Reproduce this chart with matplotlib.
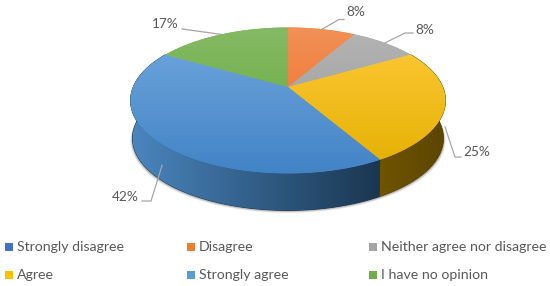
#!/usr/bin/env python3
from __future__ import annotations

import matplotlib

matplotlib.use("Agg")
import matplotlib.pyplot as plt
import numpy as np
from matplotlib.colors import LinearSegmentedColormap
from matplotlib.patches import PathPatch, Polygon, Rectangle
from matplotlib.path import Path

categories = ["Strongly disagree", "Disagree", "Neither agree nor disagree", "Agree", "Strongly agree", "I have no opinion"]
values = [0.0, 8.33, 8.33, 25.0, 41.67, 16.67]
legend_colors = ["#4472c4", "#ed7d31", "#a5a5a5", "#ffc000", "#5b9bd5", "#70ad47"]
top_colors = [
    ("#4472c4", "#3a62a8"),
    ("#f29057", "#ea6a1c"),
    ("#b4b4b4", "#989898"),
    ("#ffcb3c", "#e4af00"),
    ("#72a8de", "#4283c6"),
    ("#85ba65", "#60a736"),
]
wall_colors = {3: ("#6f5400", "#5c4500"), 4: ("#4a86bf", "#1a3650")}

WIDTH, HEIGHT = 550, 286
CX, CY = 288.0, 87.0
A, B, K = 154.8, 70.5, 0.185
WALL_SCALE, WALL_DROP = 0.987, 38.0
TEXT = "#595959"


def project(theta: np.ndarray, radius: float = 1.0, scale: float = 1.0, drop: float = 0.0) -> np.ndarray:
    u = radius * np.sin(theta)
    v = radius * np.cos(theta)
    w = 1.0 + K * v
    return np.column_stack([CX + scale * A * u / w, CY + drop - scale * B * v / w])


def gradient_fill(ax: plt.Axes, verts: np.ndarray, colors: tuple[str, str], horizontal: bool, span: tuple[float, float]) -> None:
    cmap = LinearSegmentedColormap.from_list("g", list(colors))
    # solid underlay keeps the clipped image from leaving pale seams
    if horizontal:
        ax.add_patch(Polygon(verts, closed=True, facecolor=colors[1], edgecolor=colors[1], lw=0.6, zorder=2))
    else:
        ax.add_patch(Polygon(verts, closed=True, facecolor=cmap(0.5), edgecolor="none", zorder=2))
    ramp = np.linspace(0, 1, 256)
    grid = ramp[None, :] if horizontal else ramp[:, None]
    lo = verts.min(axis=0)
    hi = verts.max(axis=0)
    if horizontal:
        extent = (span[0], span[1], hi[1], lo[1])
    else:
        extent = (lo[0], hi[0], span[1], span[0])
    image = ax.imshow(grid, cmap=cmap, extent=extent, aspect="auto", interpolation="bilinear", zorder=3)
    patch = PathPatch(Path(np.vstack([verts, verts[:1]])), transform=ax.transData, facecolor="none", edgecolor="none")
    ax.add_patch(patch)
    image.set_clip_path(patch)


plt.rcParams["font.family"] = ["Lato", "DejaVu Sans"]
fig = plt.figure(figsize=(WIDTH / 100, HEIGHT / 100), dpi=100)
ax = fig.add_axes([0, 0, 1, 1])
ax.set_axis_off()

# soft shadow under the wall
full = np.linspace(0, 2 * np.pi, 361)
for grow, alpha in [(2.6, 0.10), (1.8, 0.16), (1.0, 0.24)]:
    ring = project(full, scale=WALL_SCALE, drop=WALL_DROP + grow)
    ring[:, 0] = CX + (ring[:, 0] - CX) * (1 + grow / 200)
    ax.add_patch(Polygon(ring, closed=True, facecolor="#404040", edgecolor="none", alpha=alpha, zorder=1))

shares = np.asarray(values) / sum(values)
edges = np.concatenate([[0.0], np.cumsum(shares) * 2 * np.pi])
wall_left, wall_right = CX - 157.5, CX + 157.5
seam_x = project(np.array([edges[4]]))[0, 0]

# side wall, only the slices facing the viewer
for i, colors in wall_colors.items():
    theta = np.linspace(edges[i], edges[i + 1], 120)
    verts = np.vstack([project(theta), project(theta, scale=WALL_SCALE, drop=WALL_DROP)[::-1]])
    span = (wall_left, seam_x) if i == 4 else (seam_x, wall_right)
    gradient_fill(ax, verts, colors, True, span)

# top face
for i, colors in enumerate(top_colors):
    if values[i] == 0:
        continue
    theta = np.linspace(edges[i], edges[i + 1], 120)
    verts = np.vstack([[[CX, CY]], project(theta)])
    gradient_fill(ax, verts, colors, False, (27.5, 174.0))

# data labels with elbow leaders: slice index, label anchor, elbow
label_layout = [
    (1, (346, 12), (339, 19.5)),
    (2, (415, 30), (405, 33)),
    (3, (463, 152), (455, 157)),
    (4, (139, 197), (151, 201)),
    (5, (179, 24.5), (182, 29)),
]
for i, anchor, elbow in label_layout:
    mid = 0.5 * (edges[i] + edges[i + 1])
    drop = WALL_DROP * 0.55 if i in wall_colors else 0.0
    start = project(np.array([mid]), drop=drop)[0]
    end_x = anchor[0] - 2 if anchor[0] > CX else anchor[0] + 3
    ax.plot([start[0], elbow[0], end_x], [start[1], elbow[1], elbow[1]], color="#a6a6a6", lw=0.9, zorder=4)
    ha = "left" if anchor[0] > CX else "right"
    ax.text(anchor[0], anchor[1], f"{values[i]:.0f}%", ha=ha, va="center", fontsize=9.8, color=TEXT, zorder=5)

# legend, three columns by two rows
legend_x = [5, 187, 369]
legend_y = [247, 275]
for i, (name, color) in enumerate(zip(categories, legend_colors)):
    row, col = divmod(i, 3)
    ax.add_patch(Rectangle((legend_x[col], legend_y[row] - 4), 8, 8, facecolor=color, edgecolor="none", zorder=3))
    ax.text(legend_x[col] + 12, legend_y[row], name, ha="left", va="center", fontsize=10.2, color=TEXT, zorder=3)

ax.set_xlim(0, WIDTH)
ax.set_ylim(HEIGHT, 0)
fig.savefig("out.png", dpi=100, facecolor="white")
plt.close(fig)
